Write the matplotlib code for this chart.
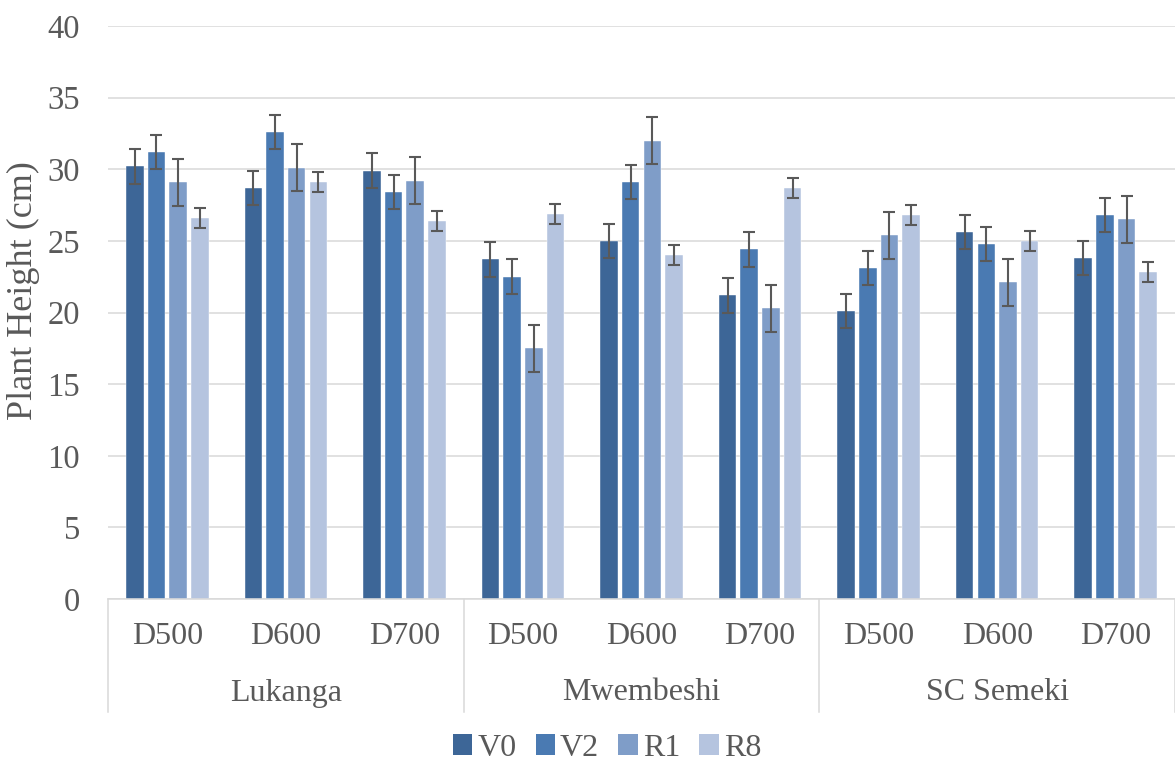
import matplotlib
matplotlib.use("Agg")
import matplotlib.pyplot as plt
import numpy as np
from matplotlib.patches import Patch

plt.rcParams['font.family'] = ['Liberation Serif', 'DejaVu Serif']

# ---- data ----
locations = ['Lukanga', 'Mwembeshi', 'SC Semeki']
densities = ['D500', 'D600', 'D700']
series = ['V0', 'V2', 'R1', 'R8']
v0 = [30.2, 28.7, 29.9, 23.7, 25.0, 21.2, 20.1, 25.6, 23.8]
v2 = [31.2, 32.6, 28.4, 22.5, 29.1, 24.4, 23.1, 24.8, 26.8]
r1 = [29.1, 30.1, 29.2, 17.5, 32.0, 20.3, 25.4, 22.1, 26.5]
r8 = [26.6, 29.1, 26.4, 26.9, 24.0, 28.7, 26.8, 25.0, 22.8]
v0_err = [1.2, 1.2, 1.2, 1.2, 1.2, 1.2, 1.2, 1.2, 1.2]
v2_err = [1.2, 1.2, 1.2, 1.2, 1.2, 1.2, 1.2, 1.2, 1.2]
r1_err = [1.65, 1.65, 1.65, 1.65, 1.65, 1.65, 1.65, 1.65, 1.65]
r8_err = [0.7, 0.7, 0.7, 0.7, 0.7, 0.7, 0.7, 0.7, 0.7]
y_ticks = [0, 5, 10, 15, 20, 25, 30, 35, 40]

values = [v0, v2, r1, r8]
errors = [v0_err, v2_err, r1_err, r8_err]
colors = ['#3D6697', '#4A7AB2', '#7F9DC8', '#B5C4DF']
text_color = '#595959'
grid_color = '#D9D9D9'

W, H = 1175, 763
fig = plt.figure(figsize=(W / 100, H / 100), dpi=100)
left_px, right_px, top_px, bottom_px = 108, 1175, 26, 599
ax = fig.add_axes([left_px / W, 1 - bottom_px / H,
                   (right_px - left_px) / W, (bottom_px - top_px) / H])

n_cat = len(locations) * len(densities)
x = np.arange(n_cat)
step = 0.183
bw = 0.148
offsets = (np.arange(4) - 1.5) * step
for vals, errs, col, off, name in zip(values, errors, colors, offsets, series):
    ax.bar(x + off, vals, width=bw, color=col, label=name, zorder=2,
           edgecolor='#FFFFFF', linewidth=0.3)
    ax.errorbar(x + off, vals, yerr=errs, fmt='none', ecolor=text_color,
                elinewidth=1.5, capsize=4, capthick=1.5, zorder=3)

ax.set_xlim(-0.5, n_cat - 0.5)
ax.set_ylim(0, 40)
ax.set_yticks(y_ticks)
ax.set_yticklabels([str(t) for t in y_ticks], fontsize=23.5, color=text_color)
ax.tick_params(axis='y', length=0, pad=20)
ax.tick_params(axis='x', length=0, labelbottom=False)
ax.yaxis.grid(True, color=grid_color, linewidth=1.1, zorder=0)
ax.set_axisbelow(True)
for s in ['top', 'right', 'left']:
    ax.spines[s].set_visible(False)
ax.spines['bottom'].set_color(grid_color)
ax.spines['bottom'].set_linewidth(1.1)

ax_h = bottom_px - top_px
trans = ax.get_xaxis_transform()
# category labels
for i in range(n_cat):
    ax.text(x[i], -38 / ax_h, densities[i % 3], transform=trans, ha='center',
            va='center', fontsize=23, color=text_color)
# group labels
for g, loc in enumerate(locations):
    ax.text(g * 3 + 1, -94 / ax_h, loc, transform=trans, ha='center',
            va='center', fontsize=23, color=text_color)
# separators
for b in [-0.5, 2.5, 5.5, 8.5]:
    ax.plot([b, b], [0, -113 / ax_h], transform=trans, color=grid_color,
            linewidth=1.1, clip_on=False)

fig.text(23 / W, 1 - 291 / H, 'Plant Height (cm)', rotation=90, ha='center',
         va='center', fontsize=26, color=text_color)

handles = [Patch(facecolor=c, edgecolor='none') for c in colors]
fig.legend(handles, series, loc='center', bbox_to_anchor=(607 / W, 1 - 748 / H),
           ncol=4, frameon=False, fontsize=23, handlelength=0.62,
           handleheight=0.62, handletextpad=0.15, columnspacing=0.6,
           labelcolor=text_color)

fig.savefig('out.png', dpi=100)
